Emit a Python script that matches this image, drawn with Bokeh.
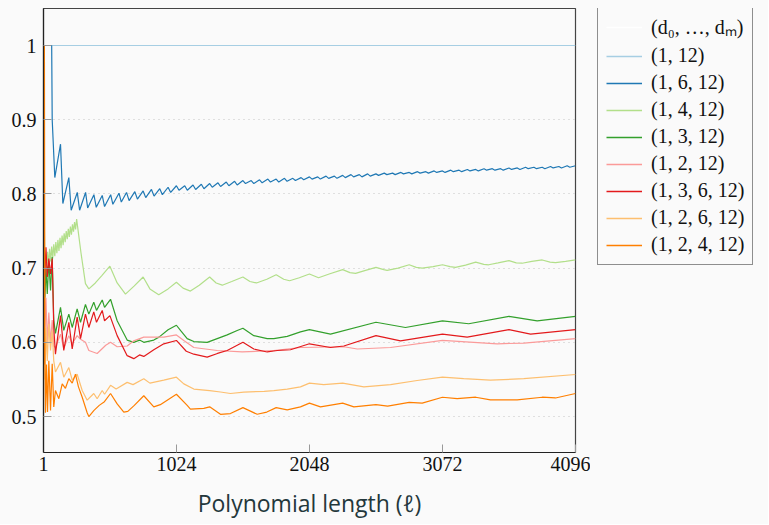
from bokeh.plotting import figure
from bokeh.layouts import row
from bokeh.models import (Range1d, FixedTicker, CustomJSTickFormatter, Legend, LegendItem)
from bokeh.embed import file_html
from bokeh.resources import INLINE

# ---------------- data ----------------
x_ticks = [1, 1024, 2048, 3072, 4096]
y_ticks = [0.5, 0.6, 0.7, 0.8, 0.9, 1.0]

header_label = "(d\u2080, \u2026, d\u2098)"
labels = ["(1, 12)", "(1, 6, 12)", "(1, 4, 12)", "(1, 3, 12)", "(1, 2, 12)",
          "(1, 3, 6, 12)", "(1, 2, 6, 12)", "(1, 2, 4, 12)"]
colors = ["#a6cee3", "#1f78b4", "#b2df8a", "#33a02c", "#fb9a99",
          "#e31a1c", "#fdbf6f", "#ff7f00"]

# (1,12)
s1_x = [1, 4096]
s1_y = [1.0, 1.0]

# (1,6,12)
s2_head_x = [1, 64, 68, 88, 132, 150, 196, 214, 261, 279, 325, 341, 389, 407, 453, 471, 518, 535, 582, 600]
s2_head_y = [1.0, 1.0, 0.90, 0.822, 0.867, 0.787, 0.822, 0.778, 0.802, 0.778, 0.802, 0.781,
             0.799, 0.782, 0.798, 0.783, 0.799, 0.786, 0.801, 0.789]
s2_peak_y = [0.802, 0.803, 0.804, 0.806, 0.807, 0.809, 0.811, 0.811, 0.812, 0.813, 0.814, 0.815,
             0.816, 0.817, 0.818, 0.818, 0.819, 0.820, 0.820, 0.821, 0.821, 0.822, 0.823, 0.823,
             0.824, 0.824, 0.825, 0.826, 0.826, 0.827, 0.827, 0.828, 0.828, 0.829, 0.829, 0.830,
             0.830, 0.831, 0.831, 0.832, 0.832, 0.833, 0.833, 0.834, 0.834, 0.834, 0.835, 0.835,
             0.836, 0.836, 0.836, 0.837, 0.837, 0.838, 0.838]
s2_trough_y = [0.791, 0.793, 0.795, 0.797, 0.799, 0.802, 0.805, 0.805, 0.806, 0.807, 0.809, 0.810,
               0.811, 0.812, 0.814, 0.814, 0.815, 0.816, 0.816, 0.817, 0.818, 0.819, 0.820, 0.820,
               0.821, 0.821, 0.822, 0.823, 0.823, 0.824, 0.825, 0.826, 0.826, 0.827, 0.827, 0.828,
               0.828, 0.829, 0.829, 0.830, 0.830, 0.831, 0.831, 0.832, 0.832, 0.832, 0.833, 0.833,
               0.834, 0.834, 0.834, 0.835, 0.835, 0.836]

# (1,4,12)
s3_x = [1, 6, 10, 14, 24, 32, 40, 48, 56, 64, 72, 80, 88, 96, 104, 112, 120, 128, 136, 144, 152,
        160, 168, 176, 184, 192, 200, 208, 216, 224, 232, 240, 248, 256, 290, 324, 350, 400, 450,
        512, 568, 632, 700, 768, 820, 888, 960, 1024, 1075, 1132, 1200, 1280, 1330, 1377, 1450,
        1536, 1590, 1640, 1720, 1792, 1850, 1895, 1970, 2048, 2118, 2200, 2304, 2360, 2403, 2480,
        2560, 2620, 2646, 2730, 2816, 2870, 2916, 3000, 3072, 3130, 3172, 3250, 3328, 3390, 3428,
        3500, 3584, 3640, 3685, 3760, 3840, 3900, 3942, 4020, 4096]
s3_y = [1.0, 0.789, 0.72, 0.706, 0.700, 0.722, 0.705, 0.726, 0.709, 0.729, 0.713, 0.732, 0.716,
        0.735, 0.720, 0.738, 0.723, 0.741, 0.727, 0.744, 0.731, 0.747, 0.735, 0.750, 0.739, 0.753,
        0.742, 0.756, 0.745, 0.759, 0.749, 0.762, 0.752, 0.766, 0.720, 0.679, 0.672, 0.680, 0.690,
        0.7026, 0.680, 0.665, 0.676, 0.688, 0.672, 0.664, 0.672, 0.681, 0.673, 0.669, 0.677, 0.688,
        0.680, 0.677, 0.682, 0.688, 0.682, 0.680, 0.685, 0.691, 0.685, 0.683, 0.687, 0.692, 0.687,
        0.692, 0.698, 0.694, 0.693, 0.697, 0.701, 0.698, 0.697, 0.700, 0.7045, 0.701, 0.700, 0.702,
        0.7045, 0.702, 0.701, 0.704, 0.708, 0.705, 0.7045, 0.707, 0.710, 0.707, 0.7066, 0.709,
        0.711, 0.708, 0.7075, 0.709, 0.711]

# (1,3,12)
s4_x = [1, 6, 12, 20, 30, 42, 55, 68, 80, 93, 132, 157, 196, 222, 260, 286, 324, 350, 388, 409,
        453, 471, 517, 568, 645, 696, 740, 773, 850, 890, 960, 1024, 1060, 1107, 1158, 1261, 1338,
        1415, 1492, 1536, 1620, 1723, 1774, 1877, 1979, 2048, 2210, 2560, 2787, 3072, 3274, 3584,
        3801, 4096]
s4_y = [1.0, 0.72, 0.66, 0.70, 0.665, 0.71, 0.67, 0.715, 0.63, 0.612, 0.647, 0.616, 0.638, 0.620,
        0.645, 0.627, 0.651, 0.638, 0.654, 0.643, 0.657, 0.647, 0.658, 0.629, 0.603, 0.600, 0.603,
        0.600, 0.603, 0.607, 0.617, 0.623, 0.615, 0.605, 0.601, 0.600, 0.605, 0.610, 0.616, 0.619,
        0.609, 0.605, 0.605, 0.608, 0.614, 0.617, 0.611, 0.627, 0.620, 0.629, 0.625, 0.635, 0.629,
        0.635]

# (1,2,12)
s5_x = [1, 6, 12, 20, 30, 42, 55, 68, 80, 93, 132, 157, 196, 222, 260, 286, 324, 350, 414, 480,
        517, 568, 645, 696, 773, 927, 1024, 1081, 1158, 1338, 1530, 1774, 1979, 2313, 2416, 2672,
        3072, 3313, 3493, 3700, 4096]
s5_y = [1.0, 0.70, 0.62, 0.66, 0.60, 0.64, 0.60, 0.63, 0.595, 0.593, 0.611, 0.592, 0.609, 0.598,
        0.609, 0.604, 0.600, 0.589, 0.585, 0.596, 0.600, 0.594, 0.595, 0.602, 0.607, 0.607, 0.610,
        0.6025, 0.593, 0.589, 0.587, 0.589, 0.593, 0.594, 0.591, 0.593, 0.6025, 0.600, 0.598, 0.599,
        0.605]

# (1,3,6,12)
s6_x = [1, 6, 12, 20, 30, 42, 55, 68, 80, 93, 132, 157, 196, 222, 260, 286, 324, 350, 388, 409,
        453, 471, 512, 568, 645, 696, 740, 773, 850, 927, 1024, 1100, 1158, 1261, 1340, 1415, 1536,
        1620, 1723, 1800, 1902, 2048, 2210, 2313, 2560, 2749, 3072, 3262, 3584, 3750, 4096]
s6_y = [1.0, 0.74, 0.69, 0.728, 0.688, 0.713, 0.692, 0.713, 0.62, 0.584, 0.636, 0.589, 0.627,
        0.591, 0.634, 0.605, 0.638, 0.620, 0.641, 0.627, 0.643, 0.629, 0.636, 0.609, 0.582, 0.578,
        0.583, 0.581, 0.590, 0.598, 0.6025, 0.588, 0.584, 0.580, 0.585, 0.589, 0.600, 0.591, 0.587,
        0.589, 0.590, 0.598, 0.593, 0.595, 0.609, 0.602, 0.611, 0.607, 0.617, 0.611, 0.617]

# (1,2,6,12)
s7_x = [1, 6, 12, 20, 30, 42, 55, 68, 80, 93, 132, 157, 196, 222, 260, 299, 337, 388, 414, 453,
        471, 517, 560, 645, 690, 773, 820, 927, 1024, 1081, 1158, 1280, 1363, 1440, 1543, 1700,
        1774, 1877, 1979, 2048, 2158, 2304, 2467, 2672, 2877, 3072, 3236, 3441, 3698, 4096]
s7_y = [1.0, 0.63, 0.55, 0.62, 0.575, 0.625, 0.589, 0.616, 0.575, 0.56, 0.573, 0.553, 0.566,
        0.549, 0.557, 0.535, 0.522, 0.531, 0.524, 0.535, 0.530, 0.542, 0.537, 0.546, 0.543, 0.551,
        0.545, 0.549, 0.553, 0.544, 0.537, 0.535, 0.533, 0.531, 0.533, 0.534, 0.535, 0.537, 0.540,
        0.545, 0.543, 0.545, 0.540, 0.543, 0.5485, 0.553, 0.551, 0.549, 0.551, 0.5566]

# (1,2,4,12)
s8_x = [1, 4, 8, 12, 16, 24, 32, 42, 55, 68, 80, 93, 119, 145, 170, 196, 222, 247, 270, 299, 337,
        350, 388, 430, 470, 517, 568, 619, 650, 700, 773, 850, 900, 1024, 1107, 1132, 1235, 1280,
        1363, 1440, 1536, 1646, 1720, 1792, 1877, 1979, 2048, 2133, 2304, 2390, 2560, 2650, 2816,
        2916, 3072, 3185, 3328, 3441, 3647, 3840, 3942, 4096]
s8_y = [1.0, 0.57, 1.0, 0.575, 0.505, 0.57, 0.506, 0.575, 0.508, 0.571, 0.513, 0.535, 0.524,
        0.544, 0.538, 0.551, 0.545, 0.557, 0.540, 0.526, 0.505, 0.500, 0.508, 0.515, 0.520, 0.531,
        0.517, 0.506, 0.507, 0.515, 0.528, 0.513, 0.516, 0.530, 0.515, 0.510, 0.511, 0.513, 0.503,
        0.504, 0.512, 0.503, 0.506, 0.512, 0.509, 0.513, 0.518, 0.513, 0.518, 0.513, 0.516, 0.514,
        0.519, 0.518, 0.526, 0.524, 0.526, 0.5225, 0.5225, 0.526, 0.525, 0.531]

# ---------------- assemble blue sawtooth (peaks at 64k, troughs just after) ----------------
peak_x = list(range(640, 4097, 64))
trough_x = [px + 20 for px in peak_x[:-1]]
s2_x = list(s2_head_x)
s2_y = list(s2_head_y)
for i in range(len(peak_x)):
    s2_x.append(peak_x[i]); s2_y.append(s2_peak_y[i])
    if i < len(trough_x):
        s2_x.append(trough_x[i]); s2_y.append(s2_trough_y[i])

series = [(s1_x, s1_y), (s2_x, s2_y), (s3_x, s3_y), (s4_x, s4_y),
          (s5_x, s5_y), (s6_x, s6_y), (s7_x, s7_y), (s8_x, s8_y)]

# ---------------- main figure ----------------
BG = "#fafafa"
H = 524
p = figure(width=590, height=H, output_backend="svg", toolbar_location=None,
           x_range=Range1d(1, 4096), y_range=Range1d(0.4515, 1.0499),
           min_border_left=43, min_border_right=15, min_border_top=8, min_border_bottom=72)
p.background_fill_color = BG
p.border_fill_color = BG
p.outline_line_color = "#444444"
p.outline_line_width = 1.2

serif = "Liberation Serif"

p.xaxis.ticker = FixedTicker(ticks=x_ticks)
p.yaxis.ticker = FixedTicker(ticks=y_ticks)
p.yaxis.formatter = CustomJSTickFormatter(code="return String(tick);")
for ax in (p.xaxis[0], p.yaxis[0]):
    ax.major_tick_in = 8
    ax.major_tick_out = 0
    ax.minor_tick_in = 0
    ax.minor_tick_out = 0
    ax.major_tick_line_color = "#999999"
    ax.axis_line_color = "#222222"
    ax.axis_line_width = 1.2
    ax.major_label_text_font = serif
    ax.major_label_text_font_size = "20px"
    ax.major_label_text_color = "#111111"
p.yaxis.major_label_standoff = 7
p.xaxis.major_label_standoff = 4

p.xaxis.axis_label = "Polynomial length (\u2113)"
p.xaxis.axis_label_text_font = "Open Sans"
p.xaxis.axis_label_text_font_style = "normal"
p.xaxis.axis_label_text_font_size = "23px"
p.xaxis.axis_label_text_color = "#23373b"
p.xaxis.axis_label_standoff = 13

p.xgrid.grid_line_color = None
p.ygrid.grid_line_color = "#c4c4c4"
p.ygrid.grid_line_dash = "1 4"
p.ygrid.grid_line_width = 1

for (xs, ys), col in zip(series, colors):
    p.line(xs, ys, line_color=col, line_width=1.2)

# ---------------- legend panel (separate figure to the right) ----------------
lg = figure(width=178, height=H, output_backend="svg", toolbar_location=None,
            x_range=Range1d(0, 1), y_range=Range1d(0, 1),
            x_axis_type=None, y_axis_type=None,
            min_border_left=0, min_border_right=0, min_border_top=0, min_border_bottom=0)
lg.background_fill_color = BG
lg.border_fill_color = BG
lg.outline_line_color = None
lg.xgrid.grid_line_color = None
lg.ygrid.grid_line_color = None

# legend swatches: renderers whose points lie outside the (empty) legend canvas range
off_x = [5, 6]
off_y = [5, 6]
hdr = lg.line(off_x, off_y, line_color="white", line_width=1.5)
items = [LegendItem(label=header_label, renderers=[hdr])]
for lab, col in zip(labels, colors):
    r = lg.line(off_x, off_y, line_color=col, line_width=1.5)
    items.append(LegendItem(label=lab, renderers=[r]))

legend = Legend(items=items, location=(7, 187), margin=0, padding=8, spacing=4,
                glyph_width=36, glyph_height=20, label_height=20, label_standoff=9,
                label_text_font=serif, label_text_font_size="20px", label_text_color="#111111",
                border_line_color="#222222", border_line_width=1.2,
                background_fill_color=BG, background_fill_alpha=1.0)
lg.add_layout(legend, "center")

layout = row(p, lg, spacing=0)
layout.styles = {"background-color": BG}

open("out.html", "w").write(file_html(layout, INLINE))
